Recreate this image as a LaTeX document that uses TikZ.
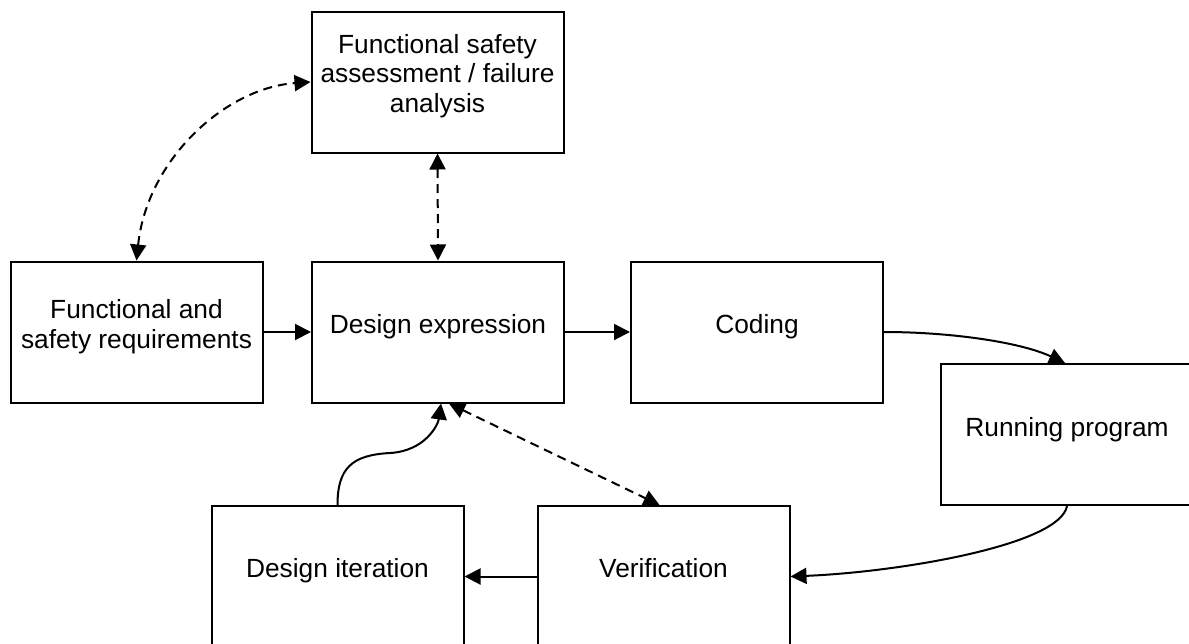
\documentclass[tikz,border=0pt]{standalone}
\usepackage{fontspec}
\setmainfont{Liberation Sans}
\usetikzlibrary{arrows.meta,calc}
\begin{document}
\begin{tikzpicture}[x=1pt,y=-1pt,
  box/.style={draw=black, line width=2pt, minimum width=252pt,
    minimum height=141pt, inner sep=0pt},
  lbl/.style={anchor=base, inner sep=0pt,
    font=\fontsize{26.3}{29.5}\selectfont},
  flow/.style={line width=2pt, -{Triangle[length=16pt,width=16pt]}},
  link/.style={line width=2pt, dash pattern=on 9pt off 6pt,
    {Triangle[length=16pt,width=16pt]}-{Triangle[length=16pt,width=16pt]}},
]
% page frame
\useasboundingbox[fill=white] (0,0) rectangle (1189,643);

% boxes
\node[box] (fsa) at (437.5,82) {};
\node[box] (req) at (136.5,332) {};
\node[box] (de)  at (438,332) {};
\node[box] (cod) at (757,332) {};
\node[box] (run) at (1067,434.5) {};
\node[box] (dit) at (337.5,576.5) {};
\node[box] (ver) at (663.5,576.5) {};

% texts
\node[lbl] (fsa-1) at (437.5,53.5) {Functional safety};
\node[lbl] (fsa-2) at (437.5,82.5) {assessment / failure};
\node[lbl] (fsa-3) at (437.5,112) {analysis};
\node[lbl] (req-1) at (136.5,318.3) {Functional and};
\node[lbl] (req-2) at (136.5,348.3) {safety requirements};
\node[lbl] (de-t)  at (438,333.3) {Design expression};
\node[lbl] (cod-t) at (757,333.3) {Coding};
\node[lbl] (run-t) at (1067,436.5) {Running program};
\node[lbl] (dit-t) at (337.5,577.5) {Design iteration};
\node[lbl] (ver-t) at (663.5,577.5) {Verification};

% main flow
\draw[flow] (req.east) -- (de.west);
\draw[flow] (de.east) -- (cod.west);
\draw[flow] (cod.east) .. controls (950,332) and (1020,342) .. ($(run.north)+(-2,0)$);
\draw[flow] (run.south) .. controls (1060,545) and (900,572) .. (ver.east);
\draw[flow] (ver.west) -- (dit.east);
\draw[flow] (dit.north) .. controls (337.5,468) and (352,455) .. (390,453)
  .. controls (425,451) and (438,425) .. ($(de.south)+(3,0)$);

% two-way links
\draw[link] (fsa.south) -- (de.north);
\draw[link] (req.north) .. controls (147,160) and (225,88) .. (fsa.west);
\draw[link] ($(de.south)+(11,0)$) -- ($(ver.north)+(-4,0)$);
\end{tikzpicture}
\end{document}
